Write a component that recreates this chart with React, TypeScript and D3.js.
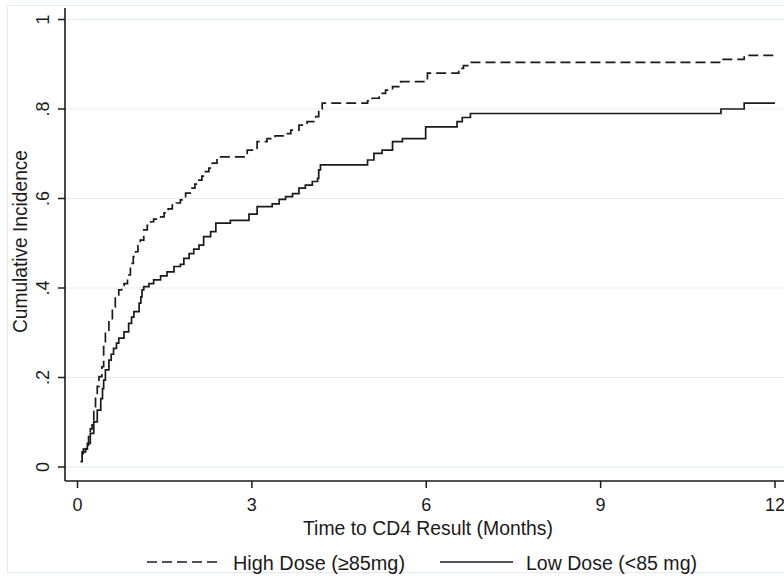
import React from "react";
import * as d3 from "d3";

// High dose (dashed): step times (months) and cumulative incidence after each step
const hiT = [0.07, 0.10, 0.14, 0.19, 0.22, 0.25, 0.28, 0.31, 0.34, 0.37, 0.42, 0.45, 0.48, 0.54, 0.60, 0.65, 0.71, 0.76, 0.80, 0.86, 0.91, 0.96, 1.00, 1.04, 1.08, 1.14, 1.20, 1.26, 1.31, 1.37, 1.49, 1.56, 1.63, 1.70, 1.77, 1.86, 1.94, 2.02, 2.09, 2.14, 2.20, 2.26, 2.32, 2.40, 2.92, 3.09, 3.26, 3.40, 3.55, 3.67, 3.81, 3.95, 4.10, 4.15, 4.21, 4.99, 5.07, 5.19, 5.30, 5.42, 5.56, 6.02, 6.56, 6.64, 6.73, 11.07, 11.47, 12.0];
const hiV = [0.03, 0.04, 0.049, 0.068, 0.085, 0.105, 0.13, 0.161, 0.18, 0.202, 0.224, 0.269, 0.306, 0.328, 0.358, 0.381, 0.396, 0.405, 0.41, 0.429, 0.455, 0.47, 0.481, 0.495, 0.507, 0.53, 0.54, 0.548, 0.554, 0.559, 0.568, 0.577, 0.585, 0.59, 0.597, 0.612, 0.623, 0.632, 0.641, 0.65, 0.66, 0.668, 0.679, 0.693, 0.708, 0.727, 0.734, 0.74, 0.745, 0.753, 0.764, 0.772, 0.783, 0.80, 0.813, 0.818, 0.824, 0.835, 0.842, 0.85, 0.861, 0.88, 0.891, 0.897, 0.904, 0.911, 0.92, 0.92];

// Low dose (solid)
const loT = [0.05, 0.08, 0.14, 0.17, 0.22, 0.28, 0.34, 0.40, 0.43, 0.45, 0.48, 0.54, 0.58, 0.62, 0.67, 0.71, 0.80, 0.88, 0.93, 0.97, 1.06, 1.09, 1.11, 1.14, 1.23, 1.31, 1.43, 1.54, 1.66, 1.77, 1.83, 1.92, 2.00, 2.09, 2.17, 2.29, 2.38, 2.63, 2.95, 3.09, 3.35, 3.47, 3.58, 3.70, 3.81, 3.92, 4.04, 4.13, 4.15, 4.18, 4.99, 5.10, 5.24, 5.42, 5.59, 5.99, 6.53, 6.62, 6.76, 11.07, 11.47, 12.0];
const loV = [0.012, 0.034, 0.04, 0.053, 0.075, 0.101, 0.127, 0.153, 0.175, 0.194, 0.217, 0.239, 0.252, 0.265, 0.277, 0.288, 0.302, 0.321, 0.335, 0.347, 0.366, 0.38, 0.396, 0.403, 0.41, 0.418, 0.427, 0.436, 0.448, 0.453, 0.466, 0.477, 0.487, 0.496, 0.515, 0.526, 0.545, 0.551, 0.565, 0.582, 0.588, 0.598, 0.604, 0.611, 0.623, 0.63, 0.638, 0.645, 0.664, 0.675, 0.686, 0.701, 0.708, 0.727, 0.734, 0.76, 0.772, 0.781, 0.79, 0.80, 0.813, 0.813];

const xTicks = [0, 3, 6, 9, 12];
const yTicks = [0, 0.2, 0.4, 0.6, 0.8, 1];
const yTickLabels = ["0", ".2", ".4", ".6", ".8", "1"];
const seriesNames = ["High Dose (\u226585mg)", "Low Dose (<85 mg)"];
const xTitle = "Time to CD4 Result (Months)";
const yTitle = "Cumulative Incidence";

const W = 784;
const H = 580;
const FONT = "'Liberation Sans', Arial, sans-serif";
const INK = "#1a1a1a";
const GRID = "#e2ecf0";

export default function App() {
  const x = d3.scaleLinear().domain([0, 12]).range([77.5, 775]);
  const y = d3.scaleLinear().domain([0, 1]).range([467, 19.5]);
  const axisY = 481;
  const axisX = 65;

  const line = d3
    .line<[number, number]>()
    .x((d) => x(d[0]))
    .y((d) => y(d[1]))
    .curve(d3.curveStepAfter);

  const hiPts: [number, number][] = hiT.map((t, i) => [t, hiV[i]]);
  const loPts: [number, number][] = loT.map((t, i) => [t, loV[i]]);

  return (
    <svg
      width={W}
      height={H}
      style={{ position: "absolute", left: 0, top: 0, background: "#fff" }}
      fontFamily={FONT}
    >
      <rect x={7.5} y={5.5} width={W + 10} height={567} fill="#fff" stroke="#e4ecf0" strokeWidth={1} />
      {/* gridlines */}
      {yTicks.map((v) => (
        <line key={"g" + v} x1={axisX} x2={W} y1={y(v)} y2={y(v)} stroke={GRID} strokeWidth={1} />
      ))}
      {/* curves */}
      <path d={line(loPts) || ""} fill="none" stroke={INK} strokeWidth={1.7} />
      <path d={line(hiPts) || ""} fill="none" stroke={INK} strokeWidth={1.7} strokeDasharray="10,5" />
      {/* axes */}
      <line x1={axisX} x2={axisX} y1={8} y2={axisY} stroke={INK} strokeWidth={1.6} />
      <line x1={axisX} x2={W} y1={axisY} y2={axisY} stroke={INK} strokeWidth={1.6} />
      {yTicks.map((v, i) => (
        <g key={"yt" + v}>
          <line x1={axisX - 7} x2={axisX} y1={y(v)} y2={y(v)} stroke={INK} strokeWidth={1.5} />
          <text
            transform={`translate(${axisX - 16},${y(v)}) rotate(-90)`}
            textAnchor="middle"
            fontSize={18}
            fill={INK}
          >
            {yTickLabels[i]}
          </text>
        </g>
      ))}
      {xTicks.map((t) => (
        <g key={"xt" + t}>
          <line x1={x(t)} x2={x(t)} y1={axisY} y2={axisY + 7} stroke={INK} strokeWidth={1.5} />
          <text x={x(t)} y={510.5} textAnchor="middle" fontSize={18} fill={INK}>
            {t}
          </text>
        </g>
      ))}
      <text
        x={303}
        y={535}
        fontSize={20}
        fill={INK}
        textLength={250}
        lengthAdjust="spacingAndGlyphs"
      >
        {xTitle}
      </text>
      <text
        transform={`translate(27,333) rotate(-90)`}
        fontSize={20}
        fill={INK}
        textLength={183}
        lengthAdjust="spacingAndGlyphs"
      >
        {yTitle}
      </text>
      {/* legend */}
      <line x1={147} x2={218} y1={562} y2={562} stroke={INK} strokeWidth={1.6} strokeDasharray="10,5" />
      <text x={233} y={569.5} fontSize={20} fill={INK} textLength={172} lengthAdjust="spacingAndGlyphs">
        {seriesNames[0]}
      </text>
      <line x1={440} x2={513} y1={562} y2={562} stroke={INK} strokeWidth={1.6} />
      <text x={526} y={569.5} fontSize={20} fill={INK} textLength={171} lengthAdjust="spacingAndGlyphs">
        {seriesNames[1]}
      </text>
    </svg>
  );
}
